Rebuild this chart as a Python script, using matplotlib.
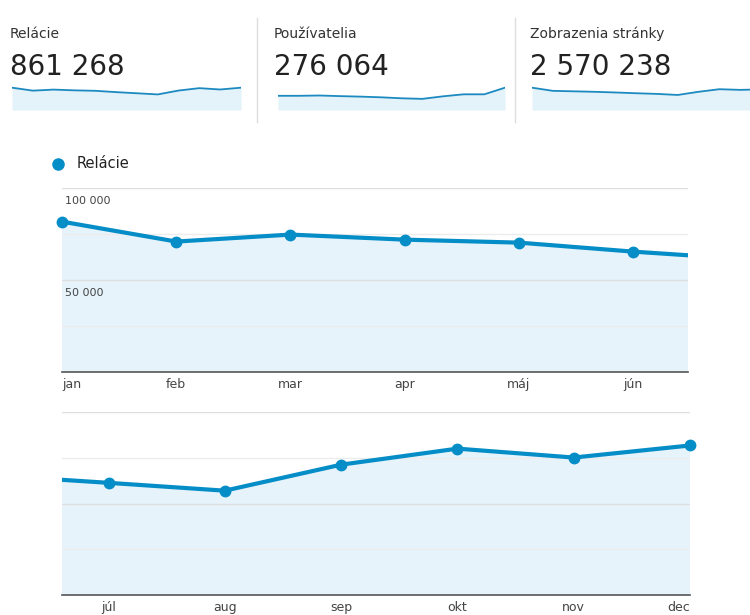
import numpy as np
import matplotlib
matplotlib.use("Agg")
from matplotlib import pyplot as plt
from matplotlib.lines import Line2D

# data
months = ["jan", "feb", "mar", "apr", "máj", "jún", "júl", "aug", "sep", "okt", "nov", "dec"]
relacie = [81720, 70890, 74680, 71930, 70310, 65420, 61290, 57010, 71220, 79980, 75110, 81708]
pouzivatelia = [22700, 22700, 23200, 22200, 21400, 20300, 18700, 17800, 21900, 25100, 25100, 35700]
zobrazenia = [256700, 220300, 214800, 209300, 201600, 192800, 185100, 173000, 209300, 239100, 231400, 236900]

kpi_titles = ["Relácie", "Používatelia", "Zobrazenia stránky"]
kpi_values = ["861 268", "276 064", "2 570 238"]
y_ticks = [50000, 100000]
y_tick_labels = ["50 000", "100 000"]

BLUE = "#058DC7"
FILL = "#E6F3FA"
W, H = 750, 615

plt.rcParams["font.family"] = ["DejaVu Sans"]
fig = plt.figure(figsize=(W / 100, H / 100), dpi=100)


def fx(px):
    return px / W


def fy(py):
    return 1 - py / H


# KPI row
kpi_x = [10, 274, 530]
spark_x = [(12, 241), (278, 505), (532, 761)]
series = [relacie, pouzivatelia, zobrazenia]
for i in range(3):
    fig.text(fx(kpi_x[i]), fy(38), kpi_titles[i], fontsize=10, color="#333333", va="baseline")
    fig.text(fx(kpi_x[i]), fy(75), kpi_values[i], fontsize=20, color="#222222", va="baseline")
    x0, x1 = spark_x[i]
    sax = fig.add_axes([fx(x0), fy(110), fx(x1 - x0), 25 / H])
    xs = np.arange(len(series[i]))
    sax.fill_between(xs, series[i], color="#E4F2F9", lw=0)
    sax.plot(xs, series[i], color="#1C8AC0", lw=1.3)
    sax.set_xlim(0, 11)
    sax.set_ylim(0, max(series[i]) * 1.12)
    sax.axis("off")

for sx in [257, 515]:
    fig.add_artist(Line2D([fx(sx), fx(sx)], [fy(18), fy(122)], color="#dddddd", lw=1))

# legend
fig.add_artist(Line2D([fx(58)], [fy(164)], marker="o", color=BLUE, markersize=8, lw=0))
fig.text(fx(77), fy(164), "Relácie", fontsize=10.5, color="#222222", va="center")


def draw_panel(rect, xlim, show_ylabels):
    ax = fig.add_axes(rect)
    x = np.arange(len(relacie))
    vals = np.array(relacie)
    ax.fill_between(x, vals, color=FILL, lw=0, zorder=0.3)
    ax.plot(x, vals, color=BLUE, lw=3, zorder=3, solid_capstyle="butt")
    inside = (x >= xlim[0]) & (x <= xlim[1])
    ax.plot(x[inside], vals[inside], "o", color=BLUE, markersize=7.5, zorder=4, clip_on=False)
    ax.set_xlim(*xlim)
    ax.set_ylim(0, 100000)
    ax.set_yticks(y_ticks)
    ax.set_yticks([25000, 75000], minor=True)
    ax.yaxis.grid(True, which="major", color="#dedede", lw=1, zorder=0.5)
    ax.yaxis.grid(True, which="minor", color="#ececec", lw=1, zorder=0.5)
    ax.tick_params(axis="y", which="both", length=0, labelleft=False)
    ax.set_xticks(x[inside])
    ax.set_xticklabels([months[k] for k in x[inside]], fontsize=9, color="#444444")
    ax.tick_params(axis="x", length=0, pad=4)
    for s in ["top", "left", "right"]:
        ax.spines[s].set_visible(False)
    ax.spines["bottom"].set_color("#555555")
    ax.spines["bottom"].set_linewidth(1.2)
    ax.spines["bottom"].set_zorder(5)
    labels = ax.get_xticklabels()
    if xlim[0] == 0:
        labels[0].set_ha("left")
    else:
        labels[-1].set_ha("right")
    if show_ylabels:
        for v, lab in zip(y_ticks, y_tick_labels):
            ax.annotate(lab, xy=(0, v), xycoords=("axes fraction", "data"),
                        xytext=(2.5, -5.5), textcoords="offset points",
                        ha="left", va="top", fontsize=8, color="#444444")
    return ax


draw_panel([fx(62), fy(372), fx(626), 184 / H], (0, 5.48), True)
draw_panel([fx(62), fy(595), fx(628), 183 / H], (5.6, 11), False)

fig.savefig("out.png", dpi=100)
